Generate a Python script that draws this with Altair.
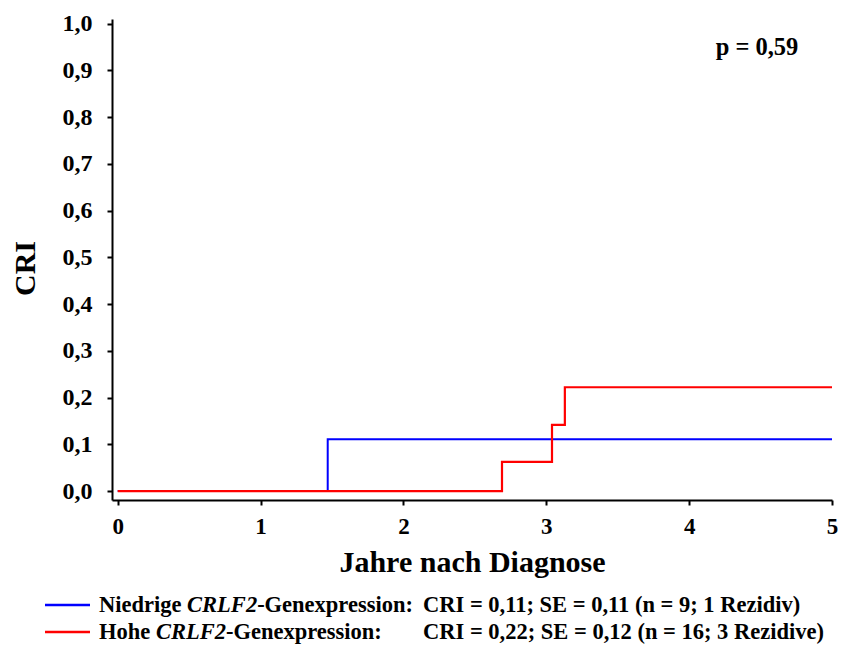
import altair as alt
import pandas as pd

# ---- data ----
low_years = [0.0, 1.47, 5.0]
low_cri = [0.0, 0.111, 0.111]
high_years = [0.0, 2.69, 3.04, 3.13, 5.0]
high_cri = [0.0, 0.0625, 0.1417, 0.2222, 0.2222]

y_ticks = [0.0, 0.1, 0.2, 0.3, 0.4, 0.5, 0.6, 0.7, 0.8, 0.9, 1.0]
x_ticks = [0, 1, 2, 3, 4, 5]

p_text = ["p = 0,59"]
leg1_parts = ["Niedrige ", "CRLF2", "-Genexpression:", "CRI = 0,11; SE = 0,11 (n = 9; 1 Rezidiv)"]
leg2_parts = ["Hohe ", "CRLF2", "-Genexpression:", "CRI = 0,22; SE = 0,12 (n = 16; 3 Rezidive)"]

FONT = "Liberation Serif"
W, H = 720, 481

low = pd.DataFrame({"x": low_years, "y": low_cri})
high = pd.DataFrame({"x": high_years, "y": high_cri})

xs = alt.Scale(domain=[-0.04, 5.0], nice=False, zero=False)
ys = alt.Scale(domain=[-0.019, 1.01], nice=False, zero=False)

xaxis = alt.Axis(values=x_ticks, format="d", grid=False, labelFont=FONT, labelFontWeight="bold",
                 labelFontSize=23, labelColor="black", domainColor="black", domainWidth=2,
                 tickColor="black", tickWidth=2, tickSize=5, labelPadding=10,
                 title="Jahre nach Diagnose", titleFont=FONT, titleFontSize=30,
                 titleFontWeight="bold", titleColor="black", titlePadding=9,
                 labelFlush=False)
yaxis = alt.Axis(values=y_ticks, grid=False, labelFont=FONT, labelFontWeight="bold",
                 labelFontSize=24, labelColor="black", domainColor="black", domainWidth=2,
                 tickColor="black", tickWidth=2, tickSize=5, labelPadding=15,
                 labelExpr="replace(format(datum.value, '.1f'), '.', ',')",
                 title="CRI", titleFont=FONT, titleFontSize=30, titleFontWeight="bold",
                 titleColor="black", titleX=-87, titleY=249, titleAlign="center",
                 titleBaseline="middle", labelFlush=False)

blue_line = alt.Chart(low).mark_line(interpolate="step-after", color="#0000ff", strokeWidth=2).encode(
    x=alt.X("x:Q", scale=xs, axis=xaxis),
    y=alt.Y("y:Q", scale=ys, axis=yaxis),
)
red_line = alt.Chart(high).mark_line(interpolate="step-after", color="#ff0000", strokeWidth=2.2).encode(
    x=alt.X("x:Q", scale=xs),
    y=alt.Y("y:Q", scale=ys),
)

p_mark = alt.Chart(pd.DataFrame({"t": p_text})).mark_text(
    font=FONT, fontSize=24.5, fontWeight="bold", color="black", align="center", baseline="middle"
).encode(x=alt.value(645), y=alt.value(29), text="t:N")

FS = 22.5
# widths (em) of Times bold / bold-italic parts, used to place the pieces side by side
def w_em(s, italic=False):
    bold = {"N": .722, "i": .278, "e": .444, "d": .556, "r": .444, "g": .5, " ": .25,
            "H": .778, "o": .5, "h": .556, "-": .333, "G": .778, "n": .556, "x": .5,
            "p": .556, "s": .389, ":": .333}
    bi = {"C": .667, "R": .667, "L": .611, "F": .667, "2": .5}
    tab = bi if italic else bold
    return sum(tab[c] for c in s)

x0 = -13
x_data = 311
layers = [blue_line, red_line, p_mark]
for parts, ly, col in [(leg1_parts, 586, "#0000ff"), (leg2_parts, 613, "#ff0000")]:
    layers.append(
        alt.Chart(pd.DataFrame({"c": [col]})).mark_rule(strokeWidth=2.5, color=col).encode(
            x=alt.value(-67), x2=alt.value(-22), y=alt.value(ly))
    )
    pos = [x0]
    pos.append(pos[-1] + w_em(parts[0]) * FS)
    pos.append(pos[-1] + w_em(parts[1], True) * FS)
    pos.append(x_data)
    for i, txt in enumerate(parts):
        layers.append(
            alt.Chart(pd.DataFrame({"t": [txt]})).mark_text(
                font=FONT, fontSize=FS, fontWeight="bold", color="black",
                fontStyle="italic" if i == 1 else "normal",
                align="left", baseline="middle"
            ).encode(x=alt.value(pos[i]), y=alt.value(ly), text="t:N")
        )

chart = alt.layer(*layers).properties(
    width=W, height=H,
    padding={"left": 104, "top": 11, "right": 6, "bottom": 146},
    autosize=alt.AutoSizeParams(type="none"),
).configure_view(stroke=None)

chart.save("out.html", embed_options={"renderer": "svg", "actions": False})
